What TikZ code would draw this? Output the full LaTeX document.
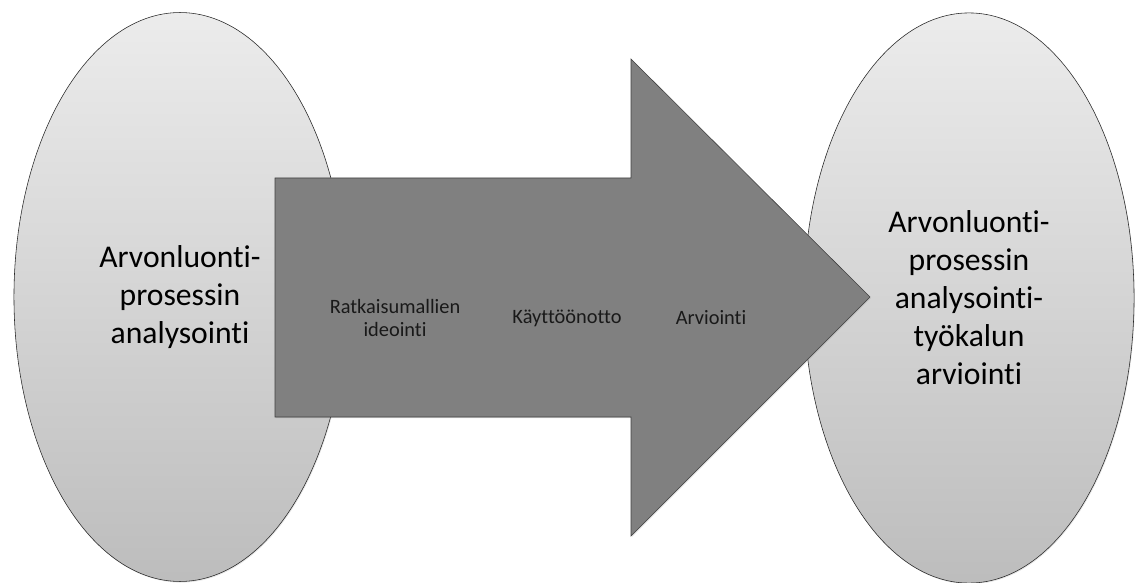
\documentclass[tikz,border=0pt]{standalone}
\usepackage{fontspec}
\setmainfont{Carlito}[Ligatures={NoCommon}]
\usetikzlibrary{shapes.geometric,shadows}
\begin{document}
\begin{tikzpicture}[x=0.025cm,y=-0.025cm]
		\tikzstyle{phase}=[ellipse,draw=black!85,thin,top color=gray!15,bottom color=gray!52,
			drop shadow={opacity=0.2,shadow xshift=0.6pt,shadow yshift=-0.8pt},
			align=center,font=\fontsize{22.5}{27}\selectfont]
		\tikzstyle{big arrow}=[draw=black!75,thin,fill=black!50,
			drop shadow={opacity=0.25,shadow xshift=0.6pt,shadow yshift=-0.8pt}]
		\tikzstyle{step label}=[align=center,font=\fontsize{14.5}{17}\selectfont,text=black!90]
		
		\useasboundingbox (0,0) rectangle (1136,583);
		
		% Draw the two phase ellipses
		\node[phase,minimum width=8.3cm,minimum height=14.22cm] (start) at (180,297)
			{Arvonluonti-\\prosessin\\analysointi};
		\node[phase,minimum width=8.25cm,minimum height=14.25cm] (end) at (969,298)
			{Arvonluonti-\\prosessin\\analysointi-\\työkalun\\arviointi};
		
		% Draw the big arrow between them
		\coordinate (A-tail top) at (275,178);
		\coordinate (A-tail bottom) at (275,417);
		\coordinate (A-tip) at (870,297);
		\draw[big arrow] (A-tail top) -- (631,178) -- (631,59) -- (A-tip)
			-- (631,536) -- (631,417) -- (A-tail bottom) -- cycle;
		
		% Annotate the steps inside the arrow
		\node[step label] (idea) at (395,318) {Ratkaisumallien\\ideointi};
		\node[step label] (deploy) at (567,318) {Käyttöönotto};
		\node[step label] (eval) at (711,318) {Arviointi};
	\end{tikzpicture}
\end{document}
